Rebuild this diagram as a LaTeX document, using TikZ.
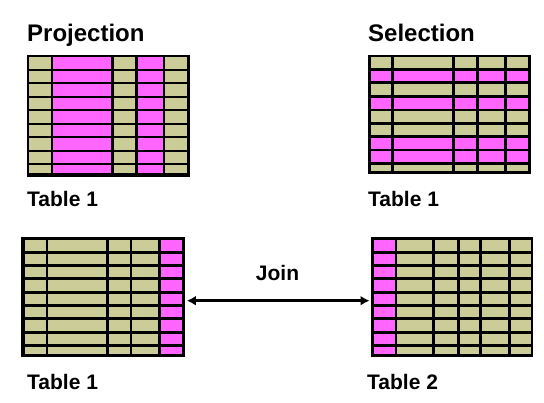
\documentclass[tikz,border=0pt]{standalone}
\usepackage{fontspec}
\setmainfont{Liberation Sans}
\usepackage{tikz}
\usetikzlibrary{arrows.meta,positioning}

\definecolor{khaki}{HTML}{CCCC99}
\definecolor{pinkcell}{HTML}{FF66FF}

\begin{document}
\begin{tikzpicture}[
        x=1pt, y=-1pt,
        tablebox/.style={draw=none, fill=black, inner sep=0pt, anchor=north west},
        title/.style={inner sep=0pt, anchor=base west, font=\fontsize{24}{28}\selectfont\bfseries},
        caption/.style={inner sep=0pt, anchor=base west, font=\fontsize{21}{25}\selectfont\bfseries},
        joinarrow/.style={draw, line width=3pt, {Latex[length=9pt,width=10pt]}-{Latex[length=9pt,width=10pt]}},
    ]
    \useasboundingbox (0,0) rectangle (544,403);

    % rows shared by the two join tables
    \def\joinrows{240.5/250.7, 253.8/264, 267.2/277.3, 280.5/290.6, 293.8/304,
        307.2/317.3, 320.5/330.6, 333.8/344, 347.2/354}

    % === PROJECTION ===
    \node[title] (projtitle) at (27,41.7) {Projection};
    \node[tablebox, minimum width=163pt, minimum height=122pt] (proj) at (27,55) {};
    \foreach \t/\u in {57.3/68.8, 70.8/82.3, 84.3/95.8, 97.8/109.3, 111.3/122.8,
        124.8/136.3, 138.3/149.8, 151.8/163.3, 165.3/173.3}
      \foreach \a/\b/\c in {29.3/50.7/khaki, 53.3/111.3/pinkcell, 114/135.3/khaki,
          138/162.7/pinkcell, 165.3/187.3/khaki}
        \fill[\c] (\a,\t) rectangle (\b,\u);
    \node[caption] (projcap) at (27,206.7) {Table 1};

    % === SELECTION ===
    \node[title] (seltitle) at (368,41.7) {Selection};
    \node[tablebox, minimum width=163pt, minimum height=118.5pt] (sel) at (368,55) {};
    \foreach \t/\u/\c in {56.7/68/khaki, 70.7/81.5/pinkcell, 84/95.3/khaki,
        98/108.7/pinkcell, 111.3/121.8/khaki, 124.7/135.3/khaki, 138/148.7/pinkcell,
        151.3/162/pinkcell, 164.7/170.7/khaki}
      \foreach \a/\b in {370.7/391.3, 394/452, 455.3/476, 478.7/504, 507.3/528}
        \fill[\c] (\a,\t) rectangle (\b,\u);
    \node[caption] (selcap) at (368,206.7) {Table 1};

    % === JOIN: left table ===
    \node[tablebox, minimum width=163.5pt, minimum height=120pt] (left) at (21,237) {};
    \foreach \t/\u in \joinrows
      \foreach \a/\b/\c in {25/45.7/khaki, 48.3/106.3/khaki, 109/129.7/khaki,
          132.3/158.3/khaki, 161/182.3/pinkcell}
        \fill[\c] (\a,\t) rectangle (\b,\u);
    \node[caption] (leftcap) at (27,390) {Table 1};

    % === JOIN: right table ===
    \node[tablebox, minimum width=162pt, minimum height=120pt] (right) at (371,237) {};
    \foreach \t/\u in \joinrows
      \foreach \a/\b/\c in {374/394.7/pinkcell, 397.3/432/khaki, 434.7/457.3/khaki,
          460/479.3/khaki, 482/508/khaki, 510.7/530.7/khaki}
        \fill[\c] (\a,\t) rectangle (\b,\u);
    \node[caption] (rightcap) at (367,390) {Table 2};

    % Join arrow
    \draw[joinarrow, shorten <=2pt, shorten >=1.5pt] ([yshift=-3.5pt]left.east) -- ([yshift=-3.5pt]right.west);
    \node[caption, anchor=base] (join) at (277.5,281) {Join};

\end{tikzpicture}
\end{document}
